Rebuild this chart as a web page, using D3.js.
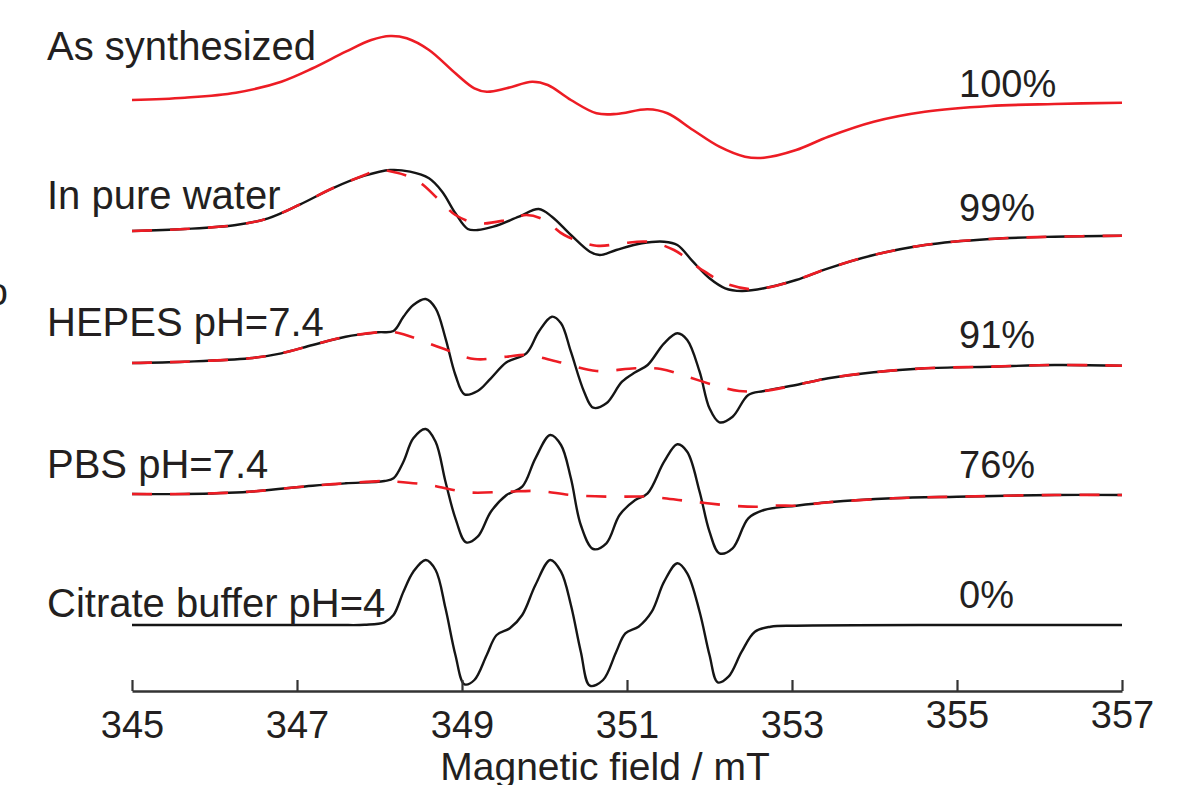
<!DOCTYPE html>
<html>
<head>
<meta charset="utf-8">
<script src="https://cdn.jsdelivr.net/npm/d3@7"></script>
<style>
  html, body { margin: 0; padding: 0; background: #fff; }
  svg { display: block; }
</style>
</head>
<body>
<svg id="chart" width="1184" height="785"></svg>
<script>
// ---------------- data (field in mT, intensity in a.u. relative to each trace baseline) -------------
const fieldDomain = [345, 357];
const fieldTicks = [345, 347, 349, 351, 353, 355, 357];

const traceNames = ["As synthesized", "In pure water", "HEPES pH=7.4", "PBS pH=7.4", "Citrate buffer pH=4"];
const tracePercent = ["100%", "99%", "91%", "76%", "0%"];
const traceOffsets = [59.1, 46.0, 32.8, 19.7, 6.6];

const synthesized = [
  [345.0, 0.0], [345.64, 0.23], [346.26, 0.73], [346.81, 1.83], [347.19, 3.17], [347.59, 4.83],
  [347.9, 6.0], [348.13, 6.4], [348.33, 6.17], [348.6, 5.0], [348.92, 2.67], [349.15, 1.17],
  [349.3, 0.83], [349.54, 1.17], [349.85, 1.83], [350.04, 1.5], [350.32, 0.0], [350.63, -1.33],
  [350.87, -1.4], [351.25, -0.93], [351.49, -1.33], [351.8, -3.0], [352.12, -4.67], [352.43, -5.67],
  [352.66, -5.77], [353.05, -5.0], [353.44, -3.67], [353.99, -2.17], [354.61, -1.17], [355.4, -0.6],
  [356.18, -0.4], [357.0, -0.27]
];

const waterExp = [
  [345.0, 0.0], [345.64, 0.2], [346.26, 0.6], [346.65, 1.27], [347.04, 2.67], [347.43, 4.27],
  [347.82, 5.53], [348.13, 6.1], [348.37, 5.93], [348.6, 5.27], [348.76, 3.93], [348.92, 1.77],
  [349.07, 0.2], [349.19, 0.1], [349.38, 0.43], [349.69, 1.43], [349.93, 2.2], [350.09, 1.43],
  [350.32, -0.4], [350.55, -2.07], [350.67, -2.4], [350.87, -1.9], [351.18, -1.23], [351.45, -1.07],
  [351.61, -1.4], [351.8, -3.07], [352.0, -4.73], [352.19, -5.73], [352.39, -6.0], [352.66, -5.73],
  [353.05, -4.9], [353.44, -3.73], [353.99, -2.4], [354.61, -1.4], [355.4, -0.8], [356.18, -0.57],
  [357.0, -0.47]
];

const waterFit = [
  [345.0, 0.0], [345.64, 0.2], [346.26, 0.6], [346.65, 1.27], [347.04, 2.67], [347.43, 4.27],
  [347.82, 5.6], [347.98, 6.1], [348.2, 5.85], [348.4, 5.3], [348.53, 4.6], [348.76, 2.8],
  [348.92, 1.6], [349.19, 0.77], [349.54, 1.1], [349.78, 1.6], [350.0, 1.1], [350.24, -0.4],
  [350.63, -1.47], [350.94, -1.23], [351.25, -1.07], [351.57, -1.9], [351.88, -3.73], [352.19, -5.23],
  [352.5, -5.83], [352.66, -5.73], [353.05, -4.9], [353.44, -3.73], [353.99, -2.4], [354.61, -1.4],
  [355.4, -0.8], [356.18, -0.57], [357.0, -0.47]
];

const hepesExp = [
  [345.0, 0.0], [345.64, 0.13], [346.42, 0.47], [346.81, 0.97], [347.19, 1.8], [347.59, 2.63],
  [347.98, 3.07], [348.17, 3.2], [348.29, 4.63], [348.41, 5.8], [348.56, 6.4], [348.68, 5.47],
  [348.8, 2.47], [348.92, -1.2], [349.03, -3.13], [349.19, -2.8], [349.35, -1.53], [349.54, 0.07],
  [349.78, 0.97], [349.93, 3.13], [350.09, 4.63], [350.2, 3.97], [350.32, 1.13], [350.48, -2.87],
  [350.59, -4.47], [350.75, -4.03], [350.94, -1.87], [351.1, -0.93], [351.25, -0.2], [351.45, 1.97],
  [351.61, 2.97], [351.73, 2.3], [351.88, -0.87], [352.0, -4.53], [352.12, -5.93], [352.28, -5.37],
  [352.47, -3.2], [352.66, -2.8], [353.05, -2.2], [353.44, -1.53], [353.99, -0.93], [354.61, -0.53],
  [355.4, -0.37], [356.18, -0.2], [357.0, -0.27]
];

const hepesFit = [
  [345.0, 0.0], [345.64, 0.13], [346.42, 0.47], [346.81, 0.97], [347.19, 1.8], [347.59, 2.63],
  [347.98, 3.07], [348.13, 3.13], [348.29, 2.87], [348.76, 1.47], [349.15, 0.4], [349.54, 0.63],
  [349.78, 0.8], [350.16, 0.13], [350.63, -0.8], [351.1, -0.53], [351.41, -0.6], [351.73, -1.37],
  [352.12, -2.37], [352.36, -2.8], [352.66, -2.8], [353.05, -2.2], [353.44, -1.53], [353.99, -0.93],
  [354.61, -0.53], [355.4, -0.37], [356.18, -0.2], [357.0, -0.27]
];

const pbsExp = [
  [345.0, 0.0], [345.64, 0.0], [346.42, 0.23], [347.19, 0.83], [347.59, 1.07], [348.06, 1.3],
  [348.17, 1.57], [348.29, 3.23], [348.41, 5.57], [348.56, 6.5], [348.68, 5.23], [348.8, 1.23],
  [348.92, -2.43], [349.05, -4.83], [349.19, -4.27], [349.35, -1.77], [349.54, -0.1], [349.73, 0.73],
  [349.89, 3.57], [350.07, 5.9], [350.2, 4.9], [350.32, 1.57], [350.44, -3.1], [350.59, -5.5],
  [350.75, -4.93], [350.91, -2.1], [351.1, -0.6], [351.25, 0.07], [351.45, 3.23], [351.61, 4.97],
  [351.73, 4.23], [351.88, 0.23], [352.0, -3.77], [352.12, -5.93], [352.28, -5.43], [352.47, -2.43],
  [352.66, -1.6], [353.05, -1.17], [353.44, -0.83], [354.22, -0.43], [355.0, -0.27], [356.18, -0.1],
  [357.0, -0.1]
];

const pbsFit = [
  [345.0, 0.0], [345.64, 0.0], [346.42, 0.23], [347.19, 0.83], [347.59, 1.07], [348.06, 1.3],
  [348.21, 1.23], [348.6, 0.9], [349.07, 0.17], [349.54, 0.23], [349.93, 0.3], [350.32, -0.1],
  [350.79, -0.27], [351.25, -0.27], [351.73, -0.7], [352.27, -1.17], [352.59, -1.27], [352.82, -1.15],
  [353.05, -1.17], [353.44, -0.83], [354.22, -0.43], [355.0, -0.27], [356.18, -0.1], [357.0, -0.1]
];

const citrateExp = [
  [345.0, 0.0], [346.5, 0.0], [347.5, 0.0], [347.82, 0.02], [348.06, 0.27], [348.17, 1.0],
  [348.29, 3.33], [348.41, 5.33], [348.56, 6.5], [348.68, 5.5], [348.8, 1.67], [348.92, -3.0],
  [349.03, -5.93], [349.15, -5.5], [349.3, -3.0], [349.42, -1.0], [349.58, -0.33], [349.73, 1.0],
  [349.89, 4.0], [350.07, 6.5], [350.2, 5.33], [350.32, 2.0], [350.44, -2.67], [350.55, -6.07],
  [350.71, -5.5], [350.87, -2.67], [350.98, -0.83], [351.14, -0.17], [351.3, 1.33], [351.45, 4.33],
  [351.61, 6.17], [351.73, 5.17], [351.88, 1.33], [352.0, -3.0], [352.1, -5.73], [352.23, -5.17],
  [352.39, -2.67], [352.55, -0.67], [352.74, -0.17], [353.05, -0.07], [355.0, 0.0], [357.0, 0.0]
];

// ---------------- drawing ----------------
const svg = d3.select("#chart");
const FONT = "'Liberation Sans', Arial, Helvetica, sans-serif";
const TEXT_COLOR = "#231f20";
const RED = "#ed1c24";
const BLACK = "#151515";

const x = d3.scaleLinear().domain(fieldDomain).range([132, 1122]);
const y = d3.scaleLinear().domain([0, 60]).range([691, 91]);

svg.append("rect").attr("width", 1184).attr("height", 785).attr("fill", "#fff");

function lineFor(offset) {
  return d3.line()
    .x(d => x(d[0]))
    .y(d => y(d[1] + offset))
    .curve(d3.curveCatmullRom.alpha(0.5));
}

const experimental = [null, waterExp, hepesExp, pbsExp, citrateExp];
const fits = [synthesized, waterFit, hepesFit, pbsFit, null];

// black experimental traces
experimental.forEach((data, i) => {
  if (!data) return;
  svg.append("path")
    .datum(data)
    .attr("d", lineFor(traceOffsets[i]))
    .attr("fill", "none")
    .attr("stroke", BLACK)
    .attr("stroke-width", 2.4)
    .attr("stroke-linejoin", "round");
});

// red traces (solid for as-synthesized, dashed fits elsewhere)
fits.forEach((data, i) => {
  if (!data) return;
  svg.append("path")
    .datum(data)
    .attr("d", lineFor(traceOffsets[i]))
    .attr("fill", "none")
    .attr("stroke", RED)
    .attr("stroke-width", 2.6)
    .attr("stroke-dasharray", i === 0 ? null : "20,18")
    .attr("stroke-linejoin", "round");
});

// x axis
const axis = d3.axisBottom(x)
  .tickValues(fieldTicks)
  .tickFormat(d3.format("d"))
  .tickSizeInner(-11)
  .tickSizeOuter(0)
  .tickPadding(20);

const gAxis = svg.append("g")
  .attr("transform", "translate(0,691)")
  .call(axis);

gAxis.select(".domain").attr("stroke", "#333").attr("stroke-width", 2.4);
gAxis.selectAll(".tick line").attr("stroke", "#333").attr("stroke-width", 2.2);
gAxis.selectAll(".tick text")
  .attr("font-family", FONT)
  .attr("font-size", 38)
  .attr("fill", TEXT_COLOR)
  .attr("y", d => d >= 355 ? 10 : 20);

// axis title
svg.append("text")
  .attr("x", 605)
  .attr("y", 780)
  .attr("text-anchor", "middle")
  .attr("font-family", FONT)
  .attr("font-size", 39)
  .attr("fill", TEXT_COLOR)
  .text("Magnetic field / mT");

// trace names
const nameBaselines = [60, 209, 336, 478, 617];
traceNames.forEach((name, i) => {
  svg.append("text")
    .attr("x", 47)
    .attr("y", nameBaselines[i])
    .attr("font-family", FONT)
    .attr("font-size", 40)
    .attr("fill", TEXT_COLOR)
    .text(name);
});

// percentages
const pctBaselines = [97, 221, 348, 478, 608];
tracePercent.forEach((p, i) => {
  svg.append("text")
    .attr("x", 959)
    .attr("y", pctBaselines[i])
    .attr("font-family", FONT)
    .attr("font-size", 38)
    .attr("fill", TEXT_COLOR)
    .text(p);
});

// partially visible glyph at the left edge
svg.append("text")
  .attr("x", 8)
  .attr("y", 305)
  .attr("text-anchor", "end")
  .attr("font-family", FONT)
  .attr("font-size", 38)
  .attr("fill", TEXT_COLOR)
  .text("o");
</script>
</body>
</html>
